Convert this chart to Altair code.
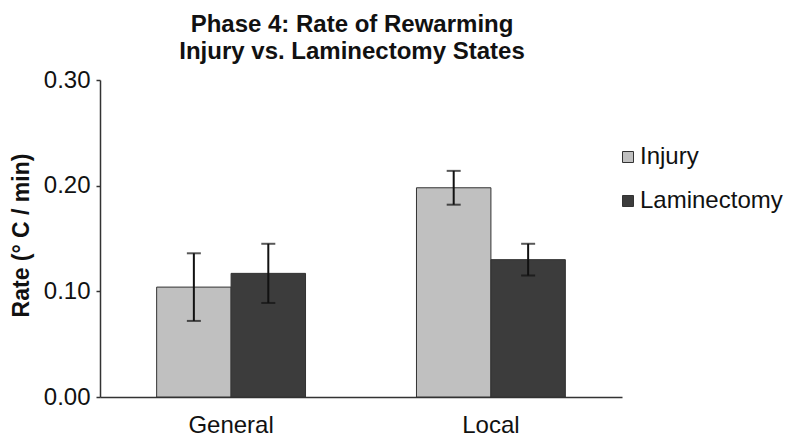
import altair as alt
import pandas as pd

categories = ["General", "General", "Local", "Local"]
groups = ["Injury", "Laminectomy", "Injury", "Laminectomy"]
values = [0.104, 0.117, 0.198, 0.130]
err_low = [0.072, 0.089, 0.182, 0.115]
err_high = [0.136, 0.145, 0.214, 0.145]
y_ticks = [0.0, 0.1, 0.2, 0.3]
group_order = ["Injury", "Laminectomy"]
group_colors = ["#c0c0c0", "#3c3c3c"]

df = pd.DataFrame({
    "category": categories,
    "group": groups,
    "value": values,
    "lo": err_low,
    "hi": err_high,
})

FONT = "Liberation Sans"

x_enc = alt.X(
    "category:N",
    title=None,
    sort=["General", "Local"],
    scale=alt.Scale(paddingInner=0.427, paddingOuter=0.218),
    axis=alt.Axis(
        labelAngle=0, ticks=False, labelPadding=16, labelFontSize=24,
        labelFont=FONT, labelColor="#111111", domainColor="#333333",
        domainWidth=1.5,
    ),
)
xoff = alt.XOffset("group:N", sort=group_order,
                   scale=alt.Scale(paddingInner=0, paddingOuter=0))

y_scale = alt.Scale(domain=[0, 0.3], nice=False)

bars = alt.Chart(df).mark_bar(stroke="#333333", strokeWidth=1).encode(
    x=x_enc,
    xOffset=xoff,
    y=alt.Y(
        "value:Q",
        scale=y_scale,
        title="Rate (° C / min)",
        axis=alt.Axis(
            values=y_ticks, format=".2f", grid=False, tickSize=4,
            labelPadding=6, labelFontSize=24, labelFont=FONT,
            labelColor="#111111", tickColor="#333333", tickWidth=1.5,
            domainColor="#333333", domainWidth=1.5,
            titleFont=FONT, titleFontSize=23, titleFontWeight="bold",
            titleColor="#111111", titleX=-67, titleY=155,
        ),
    ),
    color=alt.Color(
        "group:N",
        sort=group_order,
        scale=alt.Scale(domain=group_order, range=group_colors),
        legend=alt.Legend(
            title=None, orient="none", legendX=516, legendY=65,
            symbolType="square", symbolSize=121, symbolStrokeColor="#333333",
            symbolStrokeWidth=1, labelFontSize=24, labelFont=FONT,
            labelColor="#111111", labelOffset=0, rowPadding=20, padding=0,
        ),
    ),
)

rules = alt.Chart(df).mark_rule(color="#111111", strokeWidth=2).encode(
    x=alt.X("category:N", sort=["General", "Local"]),
    xOffset=xoff,
    y=alt.Y("lo:Q", scale=y_scale),
    y2="hi:Q",
)

caps_lo = alt.Chart(df).mark_tick(color="#111111", thickness=2, size=14, orient="horizontal").encode(
    x=alt.X("category:N", sort=["General", "Local"]),
    xOffset=xoff,
    y=alt.Y("lo:Q", scale=y_scale),
)
caps_hi = alt.Chart(df).mark_tick(color="#111111", thickness=2, size=14, orient="horizontal").encode(
    x=alt.X("category:N", sort=["General", "Local"]),
    xOffset=xoff,
    y=alt.Y("hi:Q", scale=y_scale),
)

chart = alt.layer(bars, rules, caps_lo, caps_hi).properties(
    width=522,
    height=317,
    title=alt.Title(
        ["Phase 4: Rate of Rewarming", "Injury vs. Laminectomy States"],
        fontSize=24, font=FONT, fontWeight="bold", lineHeight=27,
        anchor="middle", frame="group", dx=-9, offset=4, color="#111111",
    ),
    autosize=alt.AutoSizeParams(type="none"),
    padding={"left": 92, "top": 72, "right": 162, "bottom": 46},
).configure_view(stroke=None)

chart.save("out.html", embed_options={"renderer": "svg", "actions": False})
